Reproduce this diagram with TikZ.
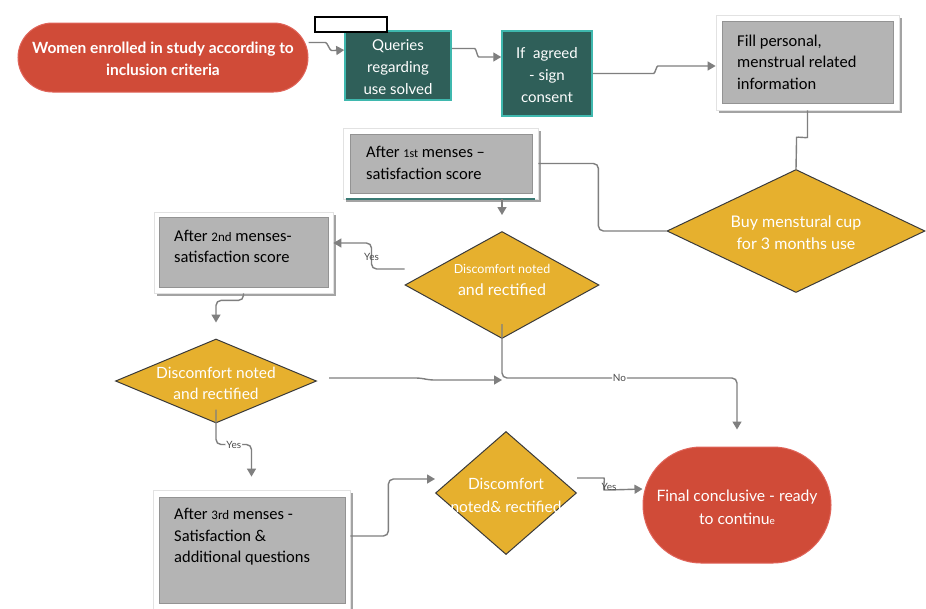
\documentclass[tikz,border=0pt]{standalone}
\usepackage{fontspec}
\setmainfont{Carlito}
\newfontfamily\lato{Lato}
\usetikzlibrary{shapes.geometric,arrows.meta,shadows}
\definecolor{redc}{HTML}{D04B38}
\definecolor{redb}{HTML}{E0645A}
\definecolor{tealc}{HTML}{2F5F59}
\definecolor{tealb}{HTML}{3FB8AE}
\definecolor{teall}{HTML}{3A7A74}
\definecolor{gold}{HTML}{E6B02E}
\definecolor{grayc}{HTML}{B4B4B4}
\definecolor{linec}{HTML}{7F7F7F}
\definecolor{shad}{HTML}{A3A3A3}
\definecolor{frameb}{HTML}{E2E2E2}
\definecolor{dkline}{HTML}{3A3A3A}
\begin{document}
\begin{tikzpicture}[x=1pt,y=-1pt,
 conn/.style={draw=linec, line width=1.4pt, rounded corners=5pt},
 arr/.style={-{Triangle[length=8pt,width=9pt]}},
 stad/.style={draw=redb, line width=1pt, fill=redc, inner sep=0},
 tealbox/.style={draw=tealb, line width=1.5pt, fill=tealc, inner sep=0},
 dia/.style={diamond, draw=dkline, line width=1pt, fill=gold, inner sep=0},
 framebox/.style={draw=frameb, line width=0.8pt, fill=white, inner sep=0,
   drop shadow={shadow xshift=3pt, shadow yshift=-3pt, fill=shad, opacity=1}},
 gbox/.style={draw=gray!85, line width=0.5pt, fill=grayc, inner sep=0},
 wtext/.style={font=\lato\fontsize{15}{22}\selectfont, text=white, align=center, inner sep=0},
 gtext/.style={font=\fontsize{16.5}{21.5}\selectfont, align=left, anchor=west, inner sep=0},
 lbl/.style={font=\lato\fontsize{10}{10}\selectfont, text=black!70, fill=white, inner sep=1pt}
]
\useasboundingbox (0,0) rectangle (926,608);
\fill[white] (0,0) rectangle (926,608);

% top row
\node[stad, rounded corners=34.5pt, minimum width=290, minimum height=69] (women) at (163,57.5) {};
\node[wtext, font=\lato\bfseries\fontsize{15.5}{22}\selectfont] (womt) at (163,59) {Women enrolled in study according to\\inclusion criteria};

\node[tealbox, minimum width=106, minimum height=69] (queries) at (398,65.5) {};
\node[wtext] (quet) at (398,67.5) {Queries\\regarding\\use solved};
\node[draw=black, line width=1.3pt, fill=white, inner sep=0, minimum width=72, minimum height=15] (blank) at (351,24.5) {};

\node[tealbox, minimum width=90, minimum height=85] (ifc) at (547,73.5) {};
\node[wtext] (ift) at (547,75.5) {If\ \ agreed\\- sign\\consent};

\node[framebox, minimum width=183, minimum height=95] (fillf) at (807.5,62.5) {};
\node[gbox, minimum width=171, minimum height=82] (fill) at (807.5,62) {};
\node[gtext] (fillt) at (737,62) {Fill personal,\\menstrual related\\information};

% diamonds
\node[dia, minimum width=258, minimum height=123] (buy) at (796,231) {};
\node[wtext, font=\lato\fontsize{16}{22}\selectfont] (buyt) at (796,233) {Buy menstural cup\\for 3 months use};

\node[framebox, minimum width=195, minimum height=71] (a1f) at (440.5,163.5) {};
\node[gbox, minimum width=182, minimum height=59] (a1) at (441,163.5) {};
\draw[teall, line width=2pt] ([xshift=3pt]a1f.south west) -- ([xshift=-3pt]a1f.south east);
\node[gtext] (a1t) at (366,163) {After {\fontsize{12}{12}\selectfont 1st} menses --\\satisfaction score};

\node[dia, minimum width=194, minimum height=107] (d1) at (502,285) {};
\node[wtext] (d1t) at (502,280) {{\fontsize{12.5}{18}\selectfont Discomfort noted}\\{\fontsize{16}{22}\selectfont and rectified}};

\node[framebox, minimum width=179, minimum height=81] (a2f) at (243.5,252.5) {};
\node[gbox, minimum width=169, minimum height=70] (a2) at (243.5,252) {};
\node[gtext] (a2t) at (174,246.5) {After {\fontsize{13}{13}\selectfont 2nd} menses-\\satisfaction score};

\node[dia, minimum width=201, minimum height=84] (d2) at (216,381) {};
\node[wtext, font=\lato\fontsize{15.5}{21}\selectfont] (d2t) at (216,383) {Discomfort noted\\and rectified};

\node[framebox, minimum width=197, minimum height=120] (a3f) at (251.5,550) {};
\node[gbox, minimum width=186, minimum height=106] (a3) at (252,550) {};
\node[gtext] (a3t) at (174,537) {After {\fontsize{13}{13}\selectfont 3rd} menses -\\Satisfaction \&\\additional questions};

\node[dia, minimum width=141, minimum height=123] (d3) at (506,493) {};
\node[wtext, font=\lato\fontsize{15.5}{23}\selectfont] (d3t) at (506,495) {Discomfort\\noted\& rectified};

\node[stad, rounded corners=58pt, minimum width=188, minimum height=116] (final) at (737,505) {};
\node[wtext, font=\lato\fontsize{15.7}{23}\selectfont] (finalt) at (737,507) {Final conclusive - ready\\to continu{\fontsize{10}{10}\selectfont e}};

% connectors
\draw[conn, arr] ([yshift=15pt]women.east) -- ++(12,0) to[out=0,in=180] ++(16,8) -- ([yshift=15.5pt]queries.west);
\draw[conn, arr] ([yshift=17pt]queries.east) -- ++(18,0) to[out=0,in=180] ++(14,8.5) -- ([yshift=16.5pt]ifc.west);
\draw[conn, arr] (ifc.east) -- ++(56,0) to[out=0,in=180] ++(14,-7.5) -- ([yshift=-3.5pt]fillf.west);
\draw[conn] (fillf.south) -- ++(0,22) to[out=-90,in=90] ++(-11,10) -- (buy.north);
\draw[conn] (buy.west) -| ([xshift=60pt]a1f.east) -- (a1f.east);
\draw[conn, arr] (d1.north |- a1f.south) -- ([yshift=16pt]d1.north);
\draw[conn, arr] ([yshift=16pt]d1.west) -- ++(-33,0) -- ++(0,-26) node[lbl, pos=0.45, fill=none] {Yes} -- ([yshift=9.5pt]a2f.east);
\draw[conn, arr] (a2f.south) -- ++(0,7) -| ([yshift=16pt]d2.north);
\coordinate (jn) at (502,378);
\draw[conn, arr] ([xshift=12pt,yshift=3pt]d2.east) -- ++(92,0) -- ++(8,2) -- ([yshift=-2pt]jn);
\draw[conn, arr] ([yshift=15pt]d1.south) -- (jn) -| node[lbl, pos=0.25] {No} ([yshift=17pt]final.north);
\draw[conn, arr] ([yshift=14pt]d2.south) -- ++(0,35) -| node[lbl, pos=0.25] {Yes} ([yshift=13pt]a3f.north);
\draw[conn, arr] ([yshift=14pt]a3f.east) -- ++(38,0) |- ([yshift=14pt]d3.west);
\draw[conn, arr] ([yshift=15pt]d3.east) -- ++(22,0) to[out=0,in=180] ++(10,12) node[lbl, fill=none, above=-2pt] {Yes} -- ([yshift=16pt]final.west);
\end{tikzpicture}
\end{document}
